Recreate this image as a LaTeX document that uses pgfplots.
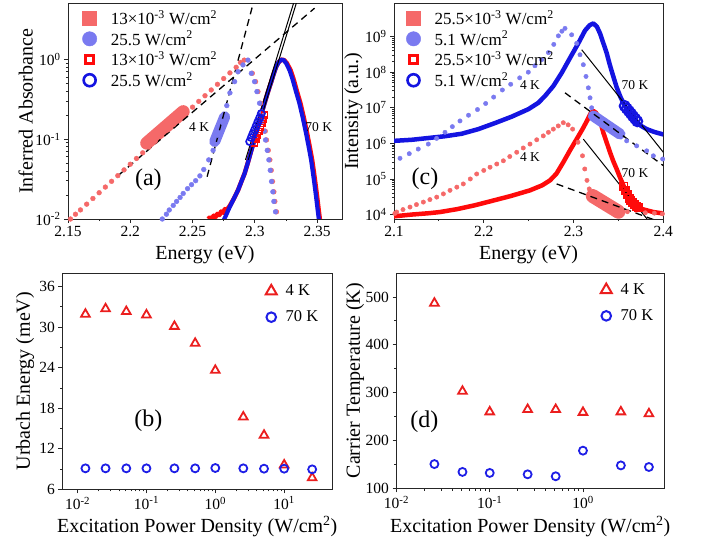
\documentclass[border=0pt]{standalone}
\usepackage{fontspec}
\setmainfont{Liberation Serif}
\usepackage{pgfplots}
\pgfplotsset{compat=1.18}
\definecolor{lred}{RGB}{245,105,105}
\definecolor{lblue}{RGB}{122,122,240}
\definecolor{dred}{RGB}{255,10,10}
\definecolor{dblue}{RGB}{20,20,225}
\definecolor{tred}{RGB}{235,30,30}
\definecolor{cblue}{RGB}{30,30,230}
\pgfplotsset{
 panel/.style={scale only axis, tick pos=left, tick align=outside,
   axis line style={line width=0.9pt, black!85},
   tick style={line width=0.8pt, black!85},
   major tick length=4pt, minor tick length=2.2pt,
   ticklabel style={font=\fontsize{15.5}{15.5}\selectfont},
   /pgf/number format/assume math mode=true,
   label style={font=\fontsize{20}{20}\selectfont},
   legend cell align=left},
 dots/.style={only marks, mark=*, mark size=2.4pt, color=#1, mark options={draw=none}, forget plot},
 dashln/.style={black, line width=1.3pt, dash pattern=on 7pt off 5pt, forget plot},
 curve/.style={color=#1, line width=4.5pt, line join=round, forget plot},
 blob/.style={color=#1, line cap=round, forget plot},
 toplegend/.style={legend style={at={(axis description cs:#1)}, anchor=north west, draw=none, fill=none, inner sep=0pt,
   nodes={inner sep=1pt, minimum height=20.7pt}, row sep=0pt, font=\fontsize{17}{17}\selectfont,
   /tikz/every odd column/.append style={column sep=13pt}}},
 botlegend/.style={legend style={at={(axis description cs:#1)}, anchor=north west, draw=none, fill=none, inner sep=0pt,
   nodes={inner sep=1pt, minimum height=26pt}, row sep=0pt, font=\fontsize{16.5}{16.5}\selectfont,
   /tikz/every odd column/.append style={column sep=8pt}}},
}
\begin{document}
\begin{tikzpicture}
\useasboundingbox (0pt,0pt) rectangle (705pt,546pt);
% ---------------- (a)
\begin{axis}[panel, at={(68pt,327pt)}, anchor=south west, width=274pt, height=215.5pt,
 xmin=2.15, xmax=2.37, ymode=log, ymin=0.01, ymax=5.0,
 xtick={2.15,2.2,2.25,2.3,2.35}, xticklabels={2.15,2.2,2.25,2.3,2.35}, minor x tick num=1,
 ytick={0.01,0.1,1}, yticklabels={10\textsuperscript{-2},10\textsuperscript{-1},10\textsuperscript{0}},
 xlabel={Energy (eV)}, ylabel={Inferred Absorbance},
 xlabel style={at={(axis description cs:0.5,-0.167)}, anchor=center},
 ylabel style={at={(axis description cs:-0.154,0.5)}, anchor=center},
 toplegend={0.052,0.981},
]
\addlegendimage{only marks, mark=square*, mark size=7pt, color=lred}
\addlegendentry{13×10\textsuperscript{-3} W/cm\textsuperscript{2}}
\addlegendimage{only marks, mark=*, mark size=7.2pt, color=lblue}
\addlegendentry{25.5 W/cm\textsuperscript{2}}
\addlegendimage{only marks, mark=square, mark size=4pt, mark options={line width=2.6pt}, color=dred}
\addlegendentry{13×10\textsuperscript{-3} W/cm\textsuperscript{2}}
\addlegendimage{only marks, mark=o, mark size=6pt, mark options={line width=2.6pt}, color=dblue}
\addlegendentry{25.5 W/cm\textsuperscript{2}}
\addplot[dots=lred] coordinates {(2.152,0.0100)(2.156,0.01148)(2.160,0.0130)(2.165,0.01535)(2.170,0.01807)(2.175,0.02133)(2.180,0.02512)(2.185,0.02965)(2.190,0.03491)(2.195,0.04121)(2.200,0.04853)(2.205,0.05728)(2.210,0.06745)(2.215,0.0796)(2.220,0.0938)(2.225,0.1107)(2.230,0.1303)(2.235,0.1538)(2.240,0.1811)(2.245,0.2138)(2.250,0.2518)(2.255,0.2972)(2.260,0.350)(2.265,0.413)(2.270,0.4864)(2.275,0.574)(2.280,0.676)(2.285,0.794)(2.2885,0.912)(2.2915,0.977)(2.2980,0.668)(2.3006,0.525)(2.3025,0.394)(2.3046,0.282)(2.3060,0.219)(2.3073,0.166)(2.3084,0.126)(2.3094,0.0977)(2.3108,0.0724)(2.3121,0.0550)(2.3132,0.0407)(2.3142,0.0295)(2.3153,0.0219)(2.3161,0.0166)(2.3174,0.0123)};
\addplot[blob=lred, line width=13pt] coordinates {(2.2132,0.0891)(2.2425,0.221)};
\addplot[dots=lblue] coordinates {(2.2257,0.0100)(2.2290,0.01148)(2.2313,0.01297)(2.2345,0.01479)(2.2372,0.0166)(2.2400,0.01862)(2.2425,0.02089)(2.2460,0.02399)(2.2492,0.02692)(2.2525,0.0302)(2.2559,0.03467)(2.2590,0.04169)(2.2630,0.0550)(2.2665,0.0724)(2.2700,0.1122)(2.2740,0.162)(2.2775,0.263)(2.2800,0.380)(2.2838,0.525)(2.2865,0.700)(2.2905,0.851)(2.2945,0.977)(2.2972,0.668)(2.2998,0.525)(2.3017,0.394)(2.3038,0.282)(2.3052,0.219)(2.3065,0.166)(2.3076,0.126)(2.3086,0.0977)(2.3100,0.0724)(2.3113,0.0550)(2.3124,0.0407)(2.3134,0.0295)(2.3145,0.0219)(2.3153,0.0166)(2.3166,0.0123)};
\addplot[blob=lblue, line width=11pt] coordinates {(2.2678,0.0933)(2.2758,0.1905)};
\addplot[curve=dred] coordinates {(2.2625,0.0100)(2.2640,0.0105)(2.2655,0.0101)(2.2670,0.0110)(2.2685,0.0106)(2.2700,0.0116)(2.2715,0.0112)(2.2730,0.0124)(2.2745,0.0120)(2.2760,0.0133)(2.2775,0.0130)(2.2798,0.0145)(2.2830,0.01778)(2.2865,0.02291)(2.2890,0.02884)(2.2918,0.03715)(2.2945,0.05129)(2.2972,0.0724)(2.3000,0.1023)(2.3025,0.1429)(2.3050,0.1995)(2.3078,0.2818)(2.3105,0.389)(2.3132,0.525)(2.3152,0.661)(2.3172,0.813)(2.3192,0.923)(2.3212,0.989)(2.3235,0.977)(2.3258,0.891)(2.3288,0.724)(2.3313,0.550)(2.3338,0.398)(2.3366,0.282)(2.3393,0.1862)(2.3420,0.1175)(2.3440,0.0813)(2.3460,0.0550)(2.3473,0.0398)(2.3486,0.0282)(2.3500,0.0191)(2.3513,0.0129)(2.3526,0.0089)};
\addplot[curve=dblue, line width=4.2pt] coordinates {(2.2740,0.00891)(2.2770,0.01122)(2.2798,0.01413)(2.2830,0.01778)(2.2865,0.02291)(2.2890,0.02884)(2.2918,0.03715)(2.2945,0.05129)(2.2972,0.0724)(2.3000,0.1023)(2.3025,0.1429)(2.3050,0.1995)(2.3078,0.2818)(2.3105,0.389)(2.3132,0.525)(2.3152,0.661)(2.3172,0.813)(2.3192,0.923)(2.3212,0.989)(2.3232,0.977)(2.3252,0.891)(2.3280,0.724)(2.3305,0.550)(2.3330,0.398)(2.3358,0.282)(2.3385,0.1862)(2.3412,0.1175)(2.3432,0.0813)(2.3452,0.0550)(2.3465,0.0398)(2.3478,0.0282)(2.3492,0.0191)(2.3505,0.0129)(2.3518,0.0089)};
\addplot[only marks, mark=square, mark size=3pt, mark options={line width=1.5pt}, color=dred, forget plot] coordinates {(2.2998,0.0891)(2.3010,0.0998)(2.3021,0.1118)(2.3033,0.1253)(2.3044,0.1404)(2.3056,0.1573)(2.3067,0.1762)(2.3078,0.1995)};
\addplot[only marks, mark=o, mark size=3.6pt, mark options={line width=1.7pt}, color=dblue, forget plot] coordinates {(2.2959,0.0933)(2.2972,0.1046)(2.2985,0.1172)(2.2999,0.1314)(2.3012,0.1472)(2.3025,0.1650)(2.3039,0.1849)(2.3052,0.2089)};
\addplot[dashln] coordinates {(2.1907,0.0355)(2.3480,4.37)};
\addplot[dashln] coordinates {(2.2617,0.0339)(2.2987,5.01)};
\addplot[black, line width=1pt, forget plot] coordinates {(2.2925,0.055)(2.3320,5.6)};
\addplot[black, line width=1pt, forget plot] coordinates {(2.2947,0.055)(2.3342,5.6)};
\node[font=\fontsize{13.5}{13.5}\selectfont] at (axis cs:2.2553,0.1406) {4 K};
\node[font=\fontsize{13.5}{13.5}\selectfont] at (axis cs:2.3513,0.1406) {70 K};
\node[font=\fontsize{24}{24}\selectfont] at (axis cs:2.2145,0.0308) {(a)};
\end{axis}
% ---------------- (c)
\begin{axis}[panel, at={(394pt,327pt)}, anchor=south west, width=269.3pt, height=215.5pt,
 xmin=2.1, xmax=2.4, ymode=log, ymin=7500, ymax=8.5e9,
 xtick={2.1,2.2,2.3,2.4}, xticklabels={2.1,2.2,2.3,2.4}, minor x tick num=1,
 ytick={1e4,1e5,1e6,1e7,1e8,1e9}, yticklabels={10\textsuperscript{4},10\textsuperscript{5},10\textsuperscript{6},10\textsuperscript{7},10\textsuperscript{8},10\textsuperscript{9}},
 xlabel={Energy (eV)}, ylabel={Intensity (a.u.)},
 xlabel style={at={(axis description cs:0.5,-0.167)}, anchor=center},
 ylabel style={at={(axis description cs:-0.151,0.5)}, anchor=center},
 toplegend={0.045,0.981},
]
\addlegendimage{only marks, mark=square*, mark size=7pt, color=lred}
\addlegendentry{25.5×10\textsuperscript{-3} W/cm\textsuperscript{2}}
\addlegendimage{only marks, mark=*, mark size=7.2pt, color=lblue}
\addlegendentry{5.1 W/cm\textsuperscript{2}}
\addlegendimage{only marks, mark=square, mark size=4pt, mark options={line width=2.6pt}, color=dred}
\addlegendentry{25.5×10\textsuperscript{-3} W/cm\textsuperscript{2}}
\addlegendimage{only marks, mark=o, mark size=6pt, mark options={line width=2.6pt}, color=dblue}
\addlegendentry{5.1 W/cm\textsuperscript{2}}
\addplot[curve=dblue] coordinates {(2.1000,1.175e6)(2.1197,1.259e6)(2.1382,1.413e6)(2.1568,1.585e6)(2.1754,1.862e6)(2.1940,2.512e6)(2.2125,3.715e6)(2.2311,5.623e6)(2.2497,9.12e6)(2.2608,1.380e7)(2.2682,2.138e7)(2.2775,4.074e7)(2.2868,9.55e7)(2.2961,2.512e8)(2.3053,6.457e8)(2.3128,1.479e9)(2.3180,2.089e9)(2.3221,2.344e9)(2.3260,1.905e9)(2.3295,1.230e9)(2.3330,6.761e8)(2.3369,3.467e8)(2.3405,1.585e8)(2.3443,7.586e7)(2.3480,3.802e7)(2.3518,2.138e7)(2.3555,1.349e7)(2.3592,9.12e6)(2.3650,5.754e6)(2.3703,3.802e6)(2.3760,3.020e6)(2.3815,2.512e6)(2.3900,2.089e6)(2.4000,1.778e6)};
\addplot[curve=dred] coordinates {(2.1000,8.913e3)(2.1200,1.0e4)(2.1400,1.096e4)(2.1510,1.175e4)(2.1700,1.413e4)(2.1900,1.820e4)(2.2070,2.344e4)(2.2300,3.311e4)(2.2515,4.786e4)(2.2650,6.607e4)(2.2738,9.12e4)(2.2810,1.413e5)(2.2886,2.951e5)(2.2960,6.31e5)(2.3035,1.318e6)(2.3100,2.512e6)(2.3147,4.169e6)(2.3190,6.918e6)(2.3221,8.128e6)(2.3250,7.244e6)(2.3276,5.495e6)(2.3305,3.548e6)(2.3332,1.995e6)(2.3370,1.047e6)(2.3406,5.623e5)(2.3443,3.162e5)(2.3480,1.905e5)(2.3520,1.072e5)(2.3555,6.607e4)(2.3600,3.548e4)(2.3650,2.239e4)(2.3700,1.660e4)(2.3740,1.479e4)(2.3889,1.175e4)(2.4000,1.072e4)};
\addplot[dots=lblue, mark size=2.2pt] coordinates {(2.1067,3.802e5)(2.1170,5.129e5)(2.1270,6.918e5)(2.1382,9.55e5)(2.1475,1.380e6)(2.1568,2.042e6)(2.1650,2.951e6)(2.1735,4.266e6)(2.1830,6.166e6)(2.1930,8.913e6)(2.2021,1.318e7)(2.2110,1.995e7)(2.2207,3.162e7)(2.2300,4.571e7)(2.2400,6.918e7)(2.2496,1.0e8)(2.2570,1.514e8)(2.2645,2.239e8)(2.2720,3.548e8)(2.2780,6.026e8)(2.2831,1.047e9)(2.2870,1.413e9)(2.2905,1.698e9)(2.2979,1.122e9)(2.3035,6.457e8)(2.3072,3.090e8)(2.3109,1.622e8)(2.3139,7.586e7)(2.3165,3.631e7)(2.3184,1.905e7)(2.3202,1.0e7)(2.3592,1.175e6)(2.3703,8.511e5)(2.3815,6.166e5)(2.3889,4.467e5)(2.3993,3.631e5)};
\addplot[blob=lblue, line width=11pt] coordinates {(2.3221,5.888e6)(2.3518,1.820e6)};
\addplot[dots=lred, mark size=2.2pt] coordinates {(2.1010,1.072e4)(2.1030,1.175e4)(2.1100,1.380e4)(2.1178,1.622e4)(2.1250,1.905e4)(2.1327,2.239e4)(2.1400,2.630e4)(2.1476,3.090e4)(2.1550,3.802e4)(2.1624,4.786e4)(2.1700,5.888e4)(2.1772,7.244e4)(2.1850,1.0e5)(2.1921,1.380e5)(2.2000,1.738e5)(2.2070,2.138e5)(2.2145,2.630e5)(2.2218,3.236e5)(2.2290,4.266e5)(2.2367,5.623e5)(2.2440,7.413e5)(2.2515,9.55e5)(2.2590,1.259e6)(2.2663,1.622e6)(2.2720,2.042e6)(2.2775,2.512e6)(2.2830,3.090e6)(2.2886,3.802e6)(2.2940,3.311e6)(2.2990,2.512e6)(2.3050,1.072e6)(2.3100,4.467e5)(2.3125,1.905e5)(2.3150,9.12e4)(2.3175,5.248e4)(2.3600,1.202e4)(2.3700,1.318e4)(2.3800,1.122e4)(2.3900,1.096e4)(2.3990,1.047e4)};
\addplot[blob=lred, line width=14pt] coordinates {(2.3215,3.3e4)(2.3500,1.2e4)};
\addplot[only marks, mark=square, mark size=3.6pt, mark options={line width=1.8pt}, color=dred, forget plot] coordinates {(2.3560,6.31e4)(2.3580,4.8e4)(2.3600,3.548e4)(2.3620,2.9e4)(2.3640,2.512e4)(2.3660,2.15e4)(2.3680,1.905e4)(2.3700,1.7e4)(2.3720,1.549e4)};
\addplot[only marks, mark=o, mark size=5pt, mark options={line width=2pt}, color=dblue, forget plot] coordinates {(2.3570,1.122e7)(2.3593,9.5e6)(2.3617,8.07e6)(2.3640,6.85e6)(2.3663,5.79e6)(2.3687,4.9e6)(2.3710,4.169e6)};
\addplot[dashln] coordinates {(2.2905,2.63e7)(2.4,2.371e5)};
\addplot[dashln] coordinates {(2.2812,7.244e4)(2.3900,7.08e3)};
\addplot[black, line width=1pt, forget plot] coordinates {(2.3091,4.266e8)(2.4,5.623e5)};
\addplot[black, line width=1pt, forget plot] coordinates {(2.3109,1.318e6)(2.3830,6.92e3)};
\node[font=\fontsize{13.5}{13.5}\selectfont] at (axis cs:2.2515,4.467e7) {4 K};
\node[font=\fontsize{13.5}{13.5}\selectfont] at (axis cs:2.2515,4.074e5) {4 K};
\node[font=\fontsize{13.5}{13.5}\selectfont] at (axis cs:2.3685,4.467e7) {70 K};
\node[font=\fontsize{13.5}{13.5}\selectfont] at (axis cs:2.3685,1.479e5) {70 K};
\node[font=\fontsize{24}{24}\selectfont] at (axis cs:2.1345,1.0e5) {(c)};
\end{axis}
% ---------------- (b)
\begin{axis}[panel, at={(62.3pt,56.7pt)}, anchor=south west, width=270pt, height=216.3pt,
 xmode=log, xmin=0.006, xmax=50, ymin=6, ymax=38,
 ytick={6,12,18,24,30,36}, minor y tick num=1,
 xtick={0.01,0.1,1,10}, xticklabels={10\textsuperscript{-2},10\textsuperscript{-1},10\textsuperscript{0},10\textsuperscript{1}},
 xlabel={Excitation Power Density (W/cm\textsuperscript{2})}, ylabel={Urbach Energy (meV)},
 xlabel style={at={(axis description cs:0.5,-0.173)}, anchor=center},
 ylabel style={at={(axis description cs:-0.138,0.5)}, anchor=center},
 botlegend={0.753,0.977},
]
\addlegendimage{only marks, mark=triangle, mark size=6.3pt, mark options={line width=2pt}, color=tred}
\addlegendentry{4 K}
\addlegendimage{only marks, mark=o, mark size=4.8pt, mark options={line width=2pt}, color=cblue}
\addlegendentry{70 K}
\addplot[only marks, mark=triangle, mark size=5pt, mark options={line width=1.8pt}, color=tred, forget plot] coordinates {(0.013,31.9)(0.0255,32.7)(0.051,32.3)(0.1,31.8)(0.255,30.1)(0.51,27.6)(1.0,23.6)(2.55,16.7)(5.1,14.0)(10,9.6)(25.5,7.7)};
\addplot[only marks, mark=o, mark size=4pt, mark options={line width=1.8pt}, color=cblue, forget plot] coordinates {(0.013,9.1)(0.0255,9.1)(0.051,9.1)(0.1,9.1)(0.255,9.1)(0.51,9.1)(1.0,9.15)(2.55,9.1)(5.1,9.05)(10,9.05)(25.5,8.95)};
\node[font=\fontsize{24}{24}\selectfont] at (axis cs:0.107,16.1) {(b)};
\end{axis}
% ---------------- (d)
\begin{axis}[panel, at={(396.5pt,57.5pt)}, anchor=south west, width=267.5pt, height=215.5pt,
 xmode=log, xmin=0.01, xmax=7.4, ymin=100, ymax=550,
 ytick={100,200,300,400,500}, minor y tick num=1,
 xtick={0.01,0.1,1}, xticklabels={10\textsuperscript{-2},10\textsuperscript{-1},10\textsuperscript{0}},
 xlabel={Excitation Power Density (W/cm\textsuperscript{2})}, ylabel={Carrier Temperature (K)},
 xlabel style={at={(axis description cs:0.5,-0.177)}, anchor=center},
 ylabel style={at={(axis description cs:-0.155,0.5)}, anchor=center},
 botlegend={0.763,0.983},
]
\addlegendimage{only marks, mark=triangle, mark size=6.3pt, mark options={line width=2pt}, color=tred}
\addlegendentry{4 K}
\addlegendimage{only marks, mark=o, mark size=4.8pt, mark options={line width=2pt}, color=cblue}
\addlegendentry{70 K}
\addplot[only marks, mark=triangle, mark size=5pt, mark options={line width=1.8pt}, color=tred, forget plot] coordinates {(0.0255,487)(0.051,303)(0.1,260)(0.255,265)(0.51,265)(1.0,259)(2.55,260)(5.1,256)};
\addplot[only marks, mark=o, mark size=4pt, mark options={line width=1.8pt}, color=cblue, forget plot] coordinates {(0.0255,151)(0.051,134.6)(0.1,132.5)(0.255,129.6)(0.51,125.5)(1.0,179)(2.55,148.2)(5.1,144.9)};
\node[font=\fontsize{24}{24}\selectfont] at (axis cs:0.0199,239) {(d)};
\end{axis}
\end{tikzpicture}
\end{document}
